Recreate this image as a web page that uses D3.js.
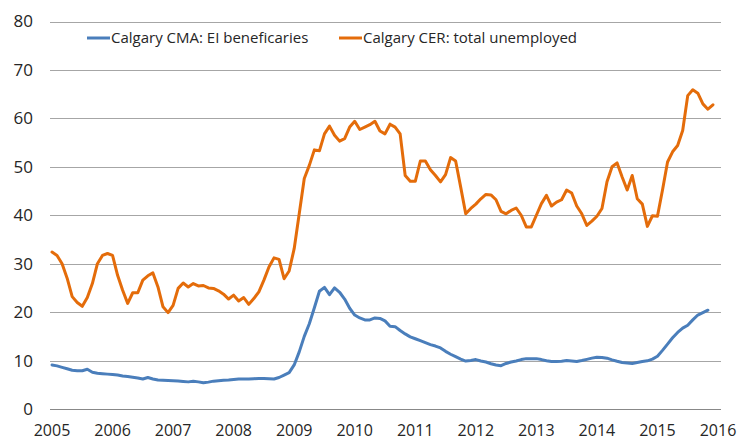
<!DOCTYPE html>
<html>
<head>
<meta charset="utf-8">
<script src="https://cdn.jsdelivr.net/npm/d3@7"></script>
<style>
  body { margin: 0; background: #fff; }
  svg text { font-family: "Open Sans", sans-serif; fill: #262626; }
</style>
</head>
<body>
<svg id="chart" width="738" height="441"></svg>
<script>
// Monthly values, Jan 2005 onward (thousands)
const startYear = 2005;
const yearTicks = [2005, 2006, 2007, 2008, 2009, 2010, 2011, 2012, 2013, 2014, 2015, 2016];
const yTicks = [0, 10, 20, 30, 40, 50, 60, 70, 80];
const seriesNames = ["Calgary CMA: EI beneficaries", "Calgary CER: total unemployed"];
const seriesColors = ["#4a7ebb", "#e46c0a"];

const eiBeneficiaries = [
  9.1, 8.9, 8.6, 8.3, 8.0, 7.9, 7.9, 8.2, 7.6, 7.4, 7.3, 7.2,
  7.1, 7.0, 6.8, 6.7, 6.55, 6.4, 6.2, 6.5, 6.2, 6.0, 5.95, 5.9,
  5.85, 5.8, 5.7, 5.6, 5.75, 5.6, 5.4, 5.55, 5.75, 5.85, 5.95, 6.0,
  6.1, 6.2, 6.2, 6.2, 6.25, 6.3, 6.3, 6.25, 6.2, 6.5, 7.0, 7.5,
  9.1, 11.8, 15.0, 17.6, 20.9, 24.3, 25.1, 23.6, 25.0, 24.1, 22.7, 20.8,
  19.4, 18.8, 18.4, 18.4, 18.8, 18.7, 18.2, 17.1, 17.0, 16.2, 15.5, 14.9,
  14.5, 14.1, 13.7, 13.3, 13.0, 12.6, 11.9, 11.3, 10.8, 10.3, 9.9, 10.0,
  10.2, 9.9, 9.7, 9.35, 9.1, 8.95, 9.4, 9.7, 9.9, 10.2, 10.4, 10.4,
  10.4, 10.2, 9.95, 9.8, 9.8, 9.85, 10.0, 9.9, 9.8, 10.0, 10.25, 10.5,
  10.7, 10.65, 10.5, 10.15, 9.85, 9.6, 9.5, 9.4, 9.6, 9.8, 9.95, 10.3,
  10.9, 12.1, 13.4, 14.7, 15.8, 16.7, 17.3, 18.4, 19.4, 19.9, 20.4
];

const totalUnemployed = [
  32.4, 31.7, 30.0, 27.0, 23.2, 22.0, 21.2, 23.0, 25.9, 30.0, 31.7, 32.1,
  31.7, 27.6, 24.5, 21.8, 24.0, 24.0, 26.6, 27.5, 28.1, 25.2, 21.1, 19.9,
  21.4, 24.9, 26.0, 25.2, 25.9, 25.4, 25.5, 25.0, 24.9, 24.4, 23.7, 22.7,
  23.5, 22.3, 23.0, 21.6, 22.8, 24.2, 26.6, 29.3, 31.2, 30.9, 26.9, 28.5,
  33.1, 40.3, 47.6, 50.3, 53.5, 53.3, 56.8, 58.4, 56.5, 55.3, 55.8, 58.2,
  59.4, 57.7, 58.2, 58.7, 59.4, 57.4, 56.8, 58.8, 58.2, 56.8, 48.2, 47.0,
  47.0, 51.2, 51.2, 49.4, 48.2, 46.9, 48.4, 51.9, 51.2, 45.8, 40.3, 41.4,
  42.3, 43.4, 44.3, 44.2, 43.2, 40.8, 40.3, 41.0, 41.5, 40.0, 37.6, 37.6,
  40.0, 42.4, 44.1, 41.9, 42.7, 43.2, 45.2, 44.6, 41.9, 40.3, 37.9, 38.8,
  39.8, 41.4, 46.9, 50.0, 50.8, 47.9, 45.2, 48.2, 43.4, 42.3, 37.7, 39.9,
  39.8, 45.2, 51.0, 53.1, 54.4, 57.5, 64.7, 65.9, 65.2, 63.0, 61.9, 62.8
];

const svg = d3.select("#chart");

const x = d3.scaleLinear().domain([2005, 2016]).range([52, 718]);
const y = d3.scaleLinear().domain([0, 80]).range([409, 21.5]);

// gridlines
svg.append("g")
  .selectAll("line")
  .data(yTicks)
  .enter()
  .append("line")
  .attr("x1", 50)
  .attr("x2", 721)
  .attr("y1", d => Math.round(y(d)) + 0.5)
  .attr("y2", d => Math.round(y(d)) + 0.5)
  .attr("stroke", d => d === 0 ? "#888" : "#a6a6a6")
  .attr("stroke-width", 1);

// y labels
svg.append("g")
  .selectAll("text")
  .data(yTicks)
  .enter()
  .append("text")
  .attr("x", 33)
  .attr("y", d => y(d))
  .attr("dy", "0.35em")
  .attr("text-anchor", "end")
  .style("font-size", "17px")
  .text(d => d);

// x labels
svg.append("g")
  .selectAll("text")
  .data(yearTicks)
  .enter()
  .append("text")
  .attr("x", d => x(d))
  .attr("y", 436)
  .attr("text-anchor", "middle")
  .style("font-size", "16px")
  .text(d => d);

const line = d3.line()
  .x((d, i) => x(startYear + i / 12))
  .y(d => y(d));

[eiBeneficiaries, totalUnemployed].forEach((values, k) => {
  svg.append("path")
    .datum(values)
    .attr("fill", "none")
    .attr("stroke", seriesColors[k])
    .attr("stroke-width", 3)
    .attr("stroke-linejoin", "round")
    .attr("stroke-linecap", "round")
    .attr("d", line);
});

// legend
const legendX = [87, 339];
const legend = svg.append("g")
  .selectAll("g")
  .data(seriesNames)
  .enter()
  .append("g")
  .attr("transform", (d, i) => "translate(" + legendX[i] + ",38)");

legend.append("line")
  .attr("x1", 0)
  .attr("x2", 23)
  .attr("stroke", (d, i) => seriesColors[i])
  .attr("stroke-width", 3);

legend.append("text")
  .attr("x", 24)
  .attr("dy", "0.35em")
  .style("font-size", "15px")
  .text(d => d);
</script>
</body>
</html>
